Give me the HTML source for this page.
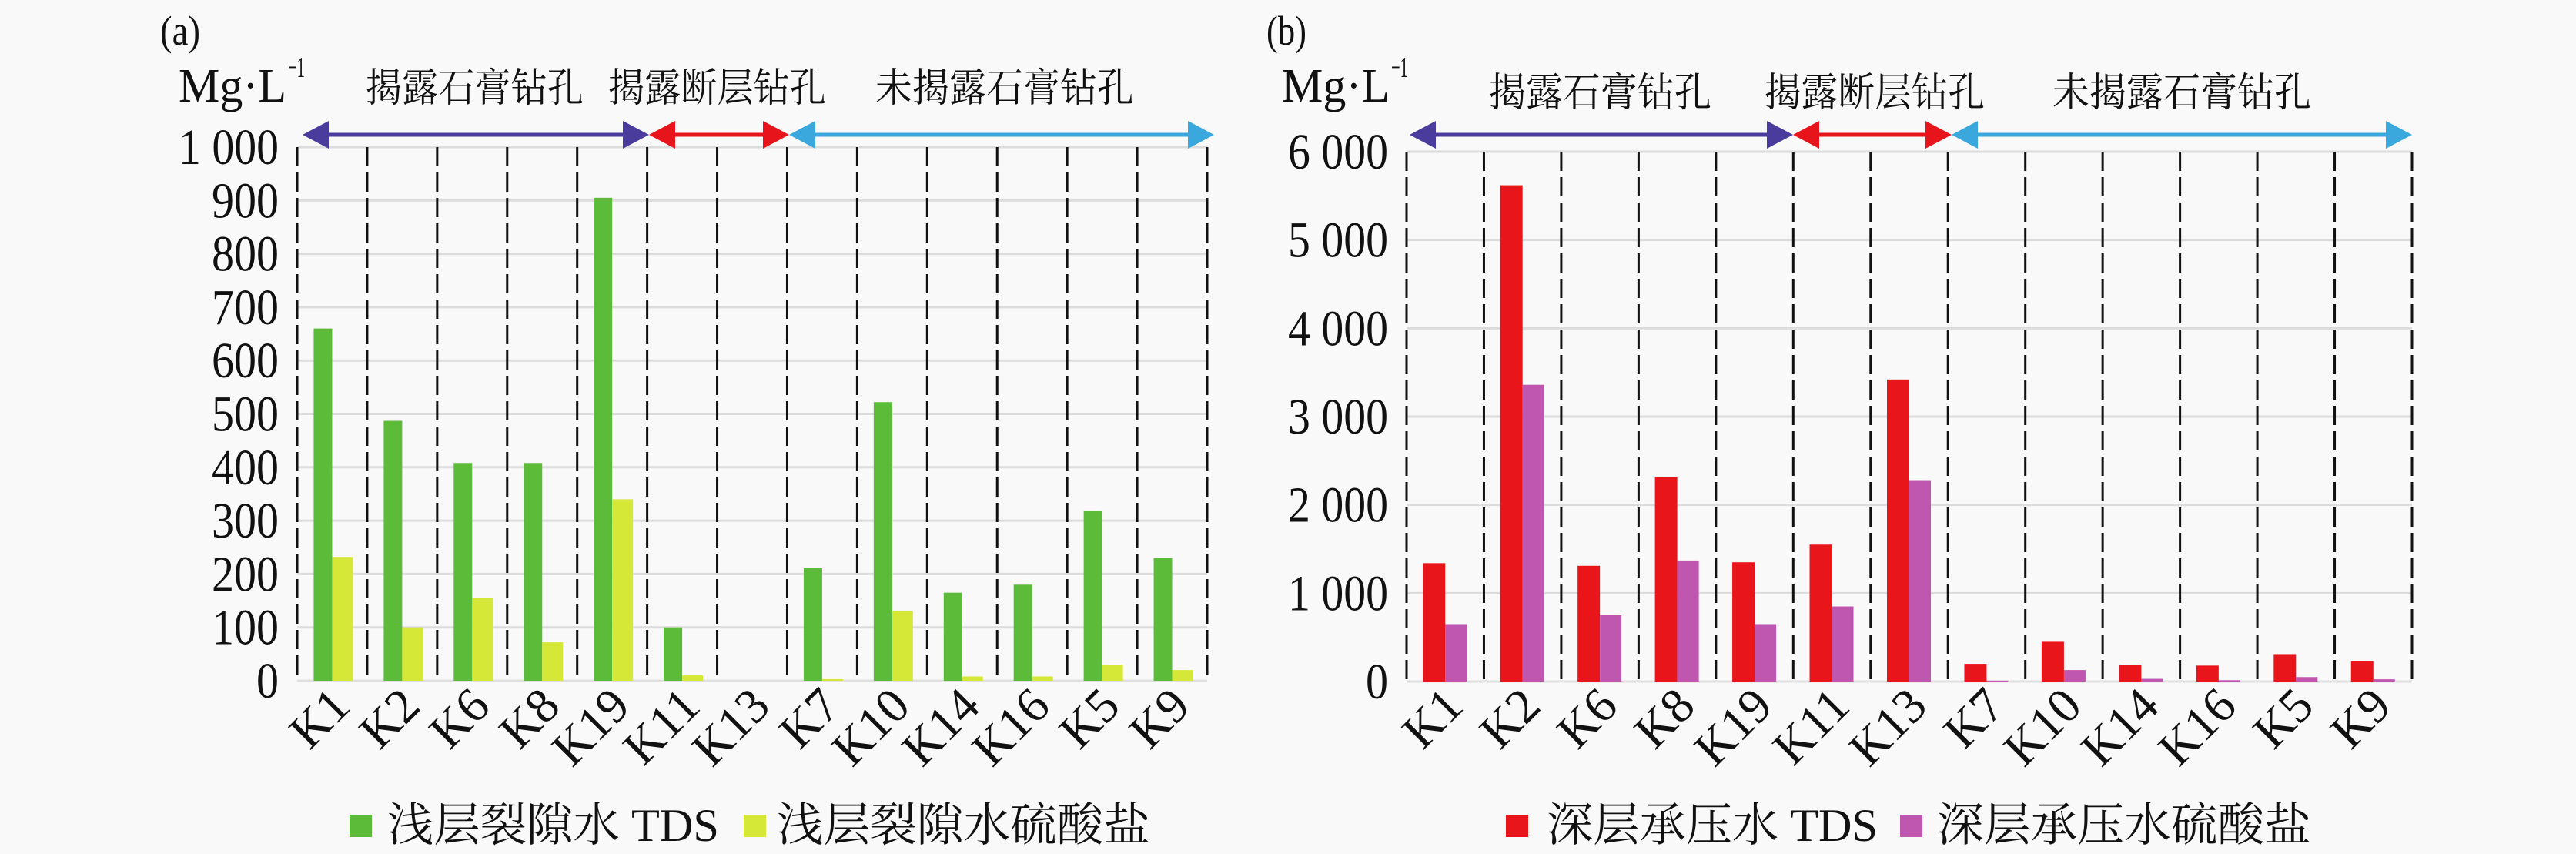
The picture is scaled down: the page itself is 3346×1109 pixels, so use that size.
<!DOCTYPE html>
<html><head><meta charset="utf-8"><style>
html,body{margin:0;padding:0;background:#f9f9f9;}
svg{display:block;}
text{font-family:"Liberation Serif","Noto Serif CJK SC",serif;fill:#111;}
.cjk{font-family:"Liberation Serif","Noto Serif CJK SC",serif;}
</style></head><body>
<svg id="s" width="3346" height="1109" viewBox="0 0 3346 1109" xmlns="http://www.w3.org/2000/svg"></svg>
<script>
const s=document.getElementById('s');
let h='';
const cats=['K1','K2','K6','K8','K19','K11','K13','K7','K10','K14','K16','K5','K9'];
function panel(o){
  const {L,R,T,Z,max,step,labels,a,b,ca,cb,wa,wb,tag,tagx,mgx,ylx,arrows,heads,headY,legend}=o;
  const cw=(R-L)/13, py=v=>Z-(Z-T)*v/max;
  h+=`<text x="${tagx}" y="58" font-size="54" textLength="52" lengthAdjust="spacingAndGlyphs">${tag}</text>`;
  h+=`<text x="${mgx}" y="132" font-size="62" textLength="140" lengthAdjust="spacingAndGlyphs">Mg·L</text><text x="${mgx+142}" y="100" font-size="38" textLength="22" lengthAdjust="spacingAndGlyphs">−1</text>`;
  for(let v=0;v<=max;v+=step){const y=py(v);
    if(v>0)h+=`<line x1="${L}" x2="${R}" y1="${y}" y2="${y}" stroke="#dcdcdc" stroke-width="3"/>`;
    const t=labels(v);const w=t.replace(/ /g,'').length*29+(t.includes(' ')?14:0);
    h+=`<text x="${ylx-w}" y="${y+22}" font-size="66" textLength="${w}" lengthAdjust="spacingAndGlyphs">${t}</text>`;}
  h+=`<line x1="${L}" x2="${R}" y1="${Z}" y2="${Z}" stroke="#e0e0e0" stroke-width="3"/>`;
  for(let i=0;i<=13;i++){const x=L+cw*i;h+=`<line x1="${x}" x2="${x}" y1="${T}" y2="${Z}" stroke="#111" stroke-width="3" stroke-dasharray="25 8"/>`;}
  for(let i=0;i<13;i++){const c=L+cw*(i+0.5);
    const ya=py(a[i]),yb=py(b[i]);
    if(a[i]>0)h+=`<rect x="${c-wa}" y="${ya}" width="${wa}" height="${Z-ya}" fill="${ca}"/>`;
    if(b[i]>0)h+=`<rect x="${c}" y="${yb}" width="${wb}" height="${Z-yb}" fill="${cb}"/>`;
    h+=`<text transform="translate(${c+26},${920}) rotate(-45)" font-size="64" text-anchor="end">${cats[i]}</text>`;}
  arrows.forEach(([x1,x2,col])=>{
    h+=`<line x1="${x1+30}" x2="${x2-30}" y1="175" y2="175" stroke="${col}" stroke-width="5"/>`;
    h+=`<polygon points="${x1},175 ${x1+34},157 ${x1+34},193" fill="${col}"/>`;
    h+=`<polygon points="${x2},175 ${x2-34},157 ${x2-34},193" fill="${col}"/>`;
  });
  heads.forEach(([x1,x2,t,col])=>{h+=`<text class="cjk" x="${x1}" y="${headY}" font-size="52" fill="${col}" textLength="${x2-x1}" lengthAdjust="spacingAndGlyphs">${t}</text>`;});
  legend.forEach(([sx,tx,tw,t,col])=>{
    h+=`<rect x="${sx}" y="1058" width="29" height="29" fill="${col}"/>`;
    h+=`<text class="cjk" x="${tx}" y="1092" font-size="60" textLength="${tw}" lengthAdjust="spacingAndGlyphs">${t}</text>`;});
}
const fmt=v=>v>=1000?Math.floor(v/1000)+' '+String(v%1000).padStart(3,'0'):String(v);
panel({L:386,R:1568,T:191,Z:884,max:1000,step:100,labels:fmt,
 a:[660,487,408,408,905,100,0,212,522,165,180,318,230],
 b:[232,100,155,72,340,10,0,3,130,8,8,30,20],ca:'#5cbc3a',cb:'#d5e838',wa:24,wb:27,
 tag:'(a)',tagx:208,mgx:232,ylx:362,
 arrows:[[393,843,'#4a3c9c'],[843,1025,'#e8141c'],[1025,1577,'#3aa8dc']],
 heads:[[475,758,'揭露石膏钻孔','#4a3c8a'],[790,1073,'揭露断层钻孔','#d0203a'],[1137,1473,'未揭露石膏钻孔','#3aaccc']],headY:132,
 legend:[[454,503,431,'浅层裂隙水 TDS','#5cbc3a'],[966,1009,485,'浅层裂隙水硫酸盐','#d5e838']]});
panel({L:1827,R:3133,T:197,Z:885,max:6000,step:1000,labels:fmt,
 a:[1340,5620,1310,2320,1350,1550,3420,200,450,190,180,310,230],
 b:[650,3360,750,1370,650,850,2280,10,130,30,15,50,25],ca:'#e8161a',cb:'#bf56b0',wa:29,wb:28,
 tag:'(b)',tagx:1645,mgx:1665,ylx:1803,
 arrows:[[1831,2329,'#4a3c9c'],[2329,2535,'#e8141c'],[2535,3133,'#3aa8dc']],
 heads:[[1934,2223,'揭露石膏钻孔','#4a3c8a'],[2292,2578,'揭露断层钻孔','#d0203a'],[2666,3002,'未揭露石膏钻孔','#3aaccc']],headY:138,
 legend:[[1956,2009,430,'深层承压水 TDS','#e8161a'],[2468,2516,486,'深层承压水硫酸盐','#bf56b0']]});
s.innerHTML=h;
</script>
</body></html>
